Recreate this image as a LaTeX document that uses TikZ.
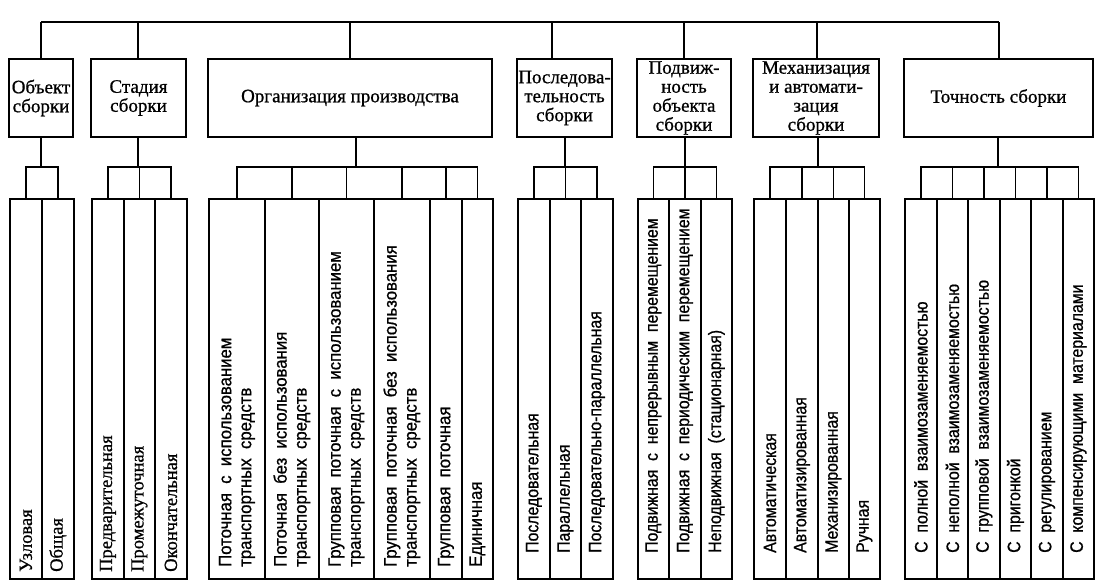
\documentclass[tikz,border=0pt]{standalone}
\usepackage{fontspec}
\usetikzlibrary{calc}
\setmainfont[FakeBold=0.8]{Liberation Serif}
\newfontfamily\sansf[FakeStretch=0.88,WordSpace=2,FakeBold=0.8]{Liberation Sans}
\newfontfamily\sansg[FakeStretch=0.93,WordSpace=2,FakeBold=0.8]{Liberation Sans}
\begin{document}
\begin{tikzpicture}[x=1pt,y=1pt,
  ln/.style={line width=1.8pt},
  topbox/.style={draw,line width=1.8pt,inner sep=0pt,minimum height=78pt,align=center,
    font=\fontsize{19}{19}\selectfont},
  child/.style={draw,line width=1.8pt,inner sep=0pt,minimum height=380pt,anchor=north west},
  rtxt/.style={rotate=90,anchor=west,inner sep=0pt,align=left,font=\fontsize{18.5}{20}\selectfont},
  gtxt/.style={rotate=90,anchor=west,inner sep=0pt,align=left,font=\sansg\fontsize{18}{20}\selectfont},
  stxt/.style={rotate=90,anchor=west,inner sep=0pt,align=left,font=\sansf\fontsize{18}{20}\selectfont}]
\useasboundingbox (0,0) rectangle (1107,-588);
% top boxes
\node[topbox,minimum width=64pt]  (obj)  at (41,-98)    {Объект\\сборки};
\node[topbox,minimum width=95pt]  (stad) at (138.5,-98) {Стадия\\сборки};
\node[topbox,minimum width=284pt] (org)  at (350,-98)   {Организация производства};
\node[topbox,minimum width=95pt]  (posl) at (564.5,-98) {Последова-\\тельность\\сборки};
\node[topbox,minimum width=94pt]  (podv) at (684,-98)   {Подвиж-\\ность\\объекта\\сборки};
\node[topbox,minimum width=126pt] (mech) at (816,-98)   {Механизация\\и автомати-\\зация\\сборки};
\node[topbox,minimum width=189pt] (toch) at (998.5,-98) {Точность сборки};
% top bus
\coordinate (busL) at (41,-22);
\coordinate (busR) at (999,-22);
\draw[ln] (busL) -- (busR);
\coordinate (oT) at (41,-59);   \coordinate (sT) at (138,-59);  \coordinate (gT) at (350,-59);
\coordinate (pT) at (552,-59);  \coordinate (vT) at (684,-59);  \coordinate (mT) at (817,-59);
\coordinate (tT) at (999,-59);
\foreach \c in {oT,sT,gT,pT,vT,mT,tT} \draw[ln] (\c) -- (\c |- busL);
% parent-to-comb verticals
\coordinate (combY) at (0,-167);
\coordinate (oB) at (41,-137);  \coordinate (sB) at (138,-137); \coordinate (gB) at (356,-137);
\coordinate (pB) at (565,-137); \coordinate (vB) at (685,-137); \coordinate (mB) at (818,-137);
\coordinate (tB) at (998,-137);
\foreach \c in {oB,sB,gB,pB,vB,mB,tB} \draw[ln] (\c) -- (\c |- combY);
% children boxes
\node[child,minimum width=32pt] (o1) at (9,-198) {};
\node[child,minimum width=32pt] (o2) at (41,-198) {};
\node[child,minimum width=32pt] (s1) at (91,-198) {};
\node[child,minimum width=31pt] (s2) at (123,-198) {};
\node[child,minimum width=32pt] (s3) at (154,-198) {};
\node[child,minimum width=56pt] (g1) at (208,-198) {};
\node[child,minimum width=54pt] (g2) at (264,-198) {};
\node[child,minimum width=55pt] (g3) at (318,-198) {};
\node[child,minimum width=56pt] (g4) at (373,-198) {};
\node[child,minimum width=32pt] (g5) at (429,-198) {};
\node[child,minimum width=31pt] (g6) at (461,-198) {};
\node[child,minimum width=32pt] (p1) at (517,-198) {};
\node[child,minimum width=31pt] (p2) at (549,-198) {};
\node[child,minimum width=32pt] (p3) at (580,-198) {};
\node[child,minimum width=31pt] (v1) at (637,-198) {};
\node[child,minimum width=32pt] (v2) at (668,-198) {};
\node[child,minimum width=31pt] (v3) at (700,-198) {};
\node[child,minimum width=32pt] (m1) at (753,-198) {};
\node[child,minimum width=32pt] (m2) at (785,-198) {};
\node[child,minimum width=31pt] (m3) at (817,-198) {};
\node[child,minimum width=31pt] (m4) at (848,-198) {};
\node[child,minimum width=32pt] (t1) at (904,-198) {};
\node[child,minimum width=31pt] (t2) at (936,-198) {};
\node[child,minimum width=32pt] (t3) at (967,-198) {};
\node[child,minimum width=31pt] (t4) at (999,-198) {};
\node[child,minimum width=32pt] (t5) at (1030,-198) {};
\node[child,minimum width=31pt] (t6) at (1062,-198) {};
% combs
\foreach \a/\b in {o1/o2,s1/s3,g1/g6,p1/p3,v1/v3,m1/m4,t1/t6}
  \draw[ln] (\a.north) -- (\a.north |- combY) -- (\b.north |- combY) -- (\b.north);
\foreach \c in {s2,g2,g3,g4,g5,p2,v2,m2,m3,t2,t3,t4,t5}
  \draw[ln] (\c.north) -- (\c.north |- combY);
% child texts
\node[rtxt] (lo1) at ($(o1.north)+(0,-374)$) {Узловая};
\node[rtxt] (lo2) at ($(o2.north)+(0,-374)$) {Общая};
\node[rtxt] (ls1) at ($(s1.north)+(0,-374)$) {Предварительная};
\node[rtxt] (ls2) at ($(s2.north)+(0,-374)$) {Промежуточная};
\node[rtxt] (ls3) at ($(s3.north)+(0,-374)$) {Окончательная};
\node[gtxt] (lg1) at ($(g1.north)+(0,-369)$) {Поточная с использованием\\транспортных средств};
\node[gtxt] (lg2) at ($(g2.north)+(0,-369)$) {Поточная без использования\\транспортных средств};
\node[gtxt] (lg3) at ($(g3.north)+(0,-369)$) {Групповая поточная с использованием\\транспортных средств};
\node[gtxt] (lg4) at ($(g4.north)+(0,-369)$) {Групповая поточная без использования\\транспортных средств};
\node[gtxt] (lg5) at ($(g5.north)+(0,-369)$) {Групповая поточная};
\node[gtxt] (lg6) at ($(g6.north)+(0,-369)$) {Единичная};
\node[stxt] (lp1) at ($(p1.north)+(0,-355)$) {Последовательная};
\node[stxt] (lp2) at ($(p2.north)+(0,-355)$) {Параллельная};
\node[stxt] (lp3) at ($(p3.north)+(0,-355)$) {Последовательно-параллельная};
\node[stxt] (lv1) at ($(v1.north)+(0,-355)$) {Подвижная с непрерывным перемещением};
\node[stxt] (lv2) at ($(v2.north)+(0,-355)$) {Подвижная с периодическим перемещением};
\node[stxt] (lv3) at ($(v3.north)+(0,-355)$) {Неподвижная (стационарная)};
\node[stxt] (lm1) at ($(m1.north)+(0,-355)$) {Автоматическая};
\node[stxt] (lm2) at ($(m2.north)+(0,-355)$) {Автоматизированная};
\node[stxt] (lm3) at ($(m3.north)+(0,-355)$) {Механизированная};
\node[stxt] (lm4) at ($(m4.north)+(0,-355)$) {Ручная};
\node[stxt] (lt1) at ($(t1.north)+(0,-355)$) {С полной взаимозаменяемостью};
\node[stxt] (lt2) at ($(t2.north)+(0,-355)$) {С неполной взаимозаменяемостью};
\node[stxt] (lt3) at ($(t3.north)+(0,-355)$) {С групповой взаимозаменяемостью};
\node[stxt] (lt4) at ($(t4.north)+(0,-355)$) {С пригонкой};
\node[stxt] (lt5) at ($(t5.north)+(0,-355)$) {С регулированием};
\node[stxt] (lt6) at ($(t6.north)+(0,-355)$) {С компенсирующими материалами};
\end{tikzpicture}
\end{document}
